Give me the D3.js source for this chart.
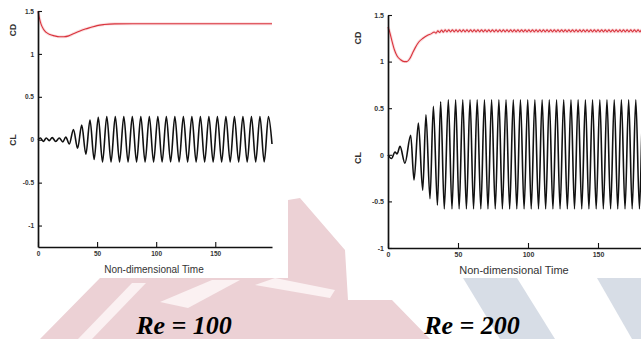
<!DOCTYPE html>
<html>
<head>
<script src="https://d3js.org/d3.v7.min.js"></script>
<style>
  body { margin: 0; background: #fff; }
  svg text { font-family: "Liberation Sans", Arial, sans-serif; }
</style>
</head>
<body>
<svg width="641" height="339"></svg>
<script>
// ---- values ----
var xTicks = [0, 50, 100, 150];
var yTicks = [1.5, 1, 0.5, 0, -0.5, -1];
var yTickLabels = ["1.5", "1", "0.5", "0", "-0.5", "-1"];
var xLabel = "Non-dimensional Time";
var titles = ["Re = 100", "Re = 200"];

// Re = 100, drag and lift (time, value)
var cd100 = [[0,1.5],[1,1.43],[2.5,1.35],[4.5,1.29],[7,1.25],[10,1.225],[14,1.21],[18,1.2],[22,1.2],[26,1.21],
  [30,1.235],[35,1.265],[40,1.29],[45,1.31],[50,1.33],[56,1.342],[65,1.35],[80,1.352],[100,1.352],[130,1.352],
  [160,1.352],[198,1.352]];

var cl100 = [[0,0],[2,0.02],[4.5,-0.02],[7,0.02],[9.5,-0.01],[12,0.025],[15,-0.02],[18,0.02],[21,-0.025],[23.5,0.03],
  [26.5,-0.05],[30,0.12],[33.5,-0.1],[37,0.17],[40.5,-0.17],[44,0.23],[47.5,-0.23],[51,0.26],[54.6,-0.26],
  [58.2,0.27],[61.8,-0.26],[65.4,0.27],[69,-0.26],[72.6,0.27],[76.2,-0.26],[79.8,0.27],[83.4,-0.26],[87,0.27],
  [90.6,-0.26],[94.2,0.27],[97.8,-0.26],[101.4,0.27],[105,-0.26],[108.6,0.27],[112.2,-0.26],[115.8,0.27],
  [119.4,-0.26],[123,0.27],[126.6,-0.26],[130.2,0.27],[133.8,-0.26],[137.4,0.27],[141,-0.26],[144.6,0.27],
  [148.2,-0.26],[151.8,0.27],[155.4,-0.26],[159,0.27],[162.6,-0.26],[166.2,0.27],[169.8,-0.26],[173.4,0.27],
  [177,-0.26],[180.6,0.27],[184.2,-0.26],[187.8,0.27],[191.4,-0.26],[195,0.27],[198,-0.05]];

// Re = 200, drag and lift (time, value)
var cd200 = [[0,1.37],[1,1.33],[2.5,1.24],[4.5,1.13],[6.5,1.06],[9,1.02],[11.5,1.0],[13.5,1.0],[15.5,1.03],
  [17.5,1.09],[19.5,1.15],[22,1.21],[25,1.25],[28,1.28],[31,1.30],
  [33,1.318],[34.3,1.305],[35.6,1.33],[36.9,1.312],[38.2,1.338],[39.5,1.316],[40.8,1.342],[42.1,1.318],
  [43.4,1.342],[44.7,1.318],[46,1.342],[47.3,1.318],[48.6,1.342],[49.9,1.318],[51.2,1.342],[52.5,1.318],
  [53.8,1.342],[55.1,1.318],[56.4,1.342],[57.7,1.318],[59,1.342],[60.3,1.318],[61.6,1.342],[62.9,1.318],
  [64.2,1.342],[65.5,1.318],[66.8,1.342],[68.1,1.318],[69.4,1.342],[70.7,1.318],[72,1.342],[73.3,1.318],
  [74.6,1.342],[75.9,1.318],[77.2,1.342],[78.5,1.318],[79.8,1.342],[81.1,1.318],[82.4,1.342],[83.7,1.318],
  [85,1.342],[86.3,1.318],[87.6,1.342],[88.9,1.318],[90.2,1.342],[91.5,1.318],[92.8,1.342],[94.1,1.318],
  [95.4,1.342],[96.7,1.318],[98,1.342],[99.3,1.318],[100.6,1.342],[101.9,1.318],[103.2,1.342],[104.5,1.318],
  [105.8,1.342],[107.1,1.318],[108.4,1.342],[109.7,1.318],[111,1.342],[112.3,1.318],[113.6,1.342],[114.9,1.318],
  [116.2,1.342],[117.5,1.318],[118.8,1.342],[120.1,1.318],[121.4,1.342],[122.7,1.318],[124,1.342],[125.3,1.318],
  [126.6,1.342],[127.9,1.318],[129.2,1.342],[130.5,1.318],[131.8,1.342],[133.1,1.318],[134.4,1.342],[135.7,1.318],
  [137,1.342],[138.3,1.318],[139.6,1.342],[140.9,1.318],[142.2,1.342],[143.5,1.318],[144.8,1.342],[146.1,1.318],
  [147.4,1.342],[148.7,1.318],[150,1.342],[151.3,1.318],[152.6,1.342],[153.9,1.318],[155.2,1.342],[156.5,1.318],
  [157.8,1.342],[159.1,1.318],[160.4,1.342],[161.7,1.318],[163,1.342],[164.3,1.318],[165.6,1.342],[166.9,1.318],
  [168.2,1.342],[169.5,1.318],[170.8,1.342],[172.1,1.318],[173.4,1.342],[174.7,1.318],[176,1.342],[177.3,1.318],
  [178.6,1.342],[179.9,1.318],[181.2,1.342],[182.5,1.318],[183.8,1.342],[185.1,1.318]];

var cl200 = [[0,0],[2.5,-0.04],[5,0.03],[6.5,0.01],[8.6,0.09],[12.1,-0.09],[16.2,0.21],[18.6,-0.27],[21.7,0.34],
  [24.8,-0.38],[27.1,0.43],[30,-0.47],[32.4,0.52],[35.3,-0.54],[37.6,0.57],[40.2,-0.58],[43.1,0.59],[45.7,-0.58],
  [48.3,0.59],[50.8,-0.58],[53.4,0.59],[56,-0.58],[58.6,0.59],[61.1,-0.58],[63.7,0.59],[66.3,-0.58],[68.9,0.59],
  [71.4,-0.58],[74,0.59],[76.6,-0.58],[79.2,0.59],[81.7,-0.58],[84.3,0.59],[86.9,-0.58],[89.5,0.59],[92,-0.58],
  [94.6,0.59],[97.2,-0.58],[99.8,0.59],[102.3,-0.58],[104.9,0.59],[107.5,-0.58],[110.1,0.59],[112.6,-0.58],
  [115.2,0.59],[117.8,-0.58],[120.4,0.59],[122.9,-0.58],[125.5,0.59],[128.1,-0.58],[130.7,0.59],[133.2,-0.58],
  [135.8,0.59],[138.4,-0.58],[141,0.59],[143.5,-0.58],[146.1,0.59],[148.7,-0.58],[151.3,0.59],[153.8,-0.58],
  [156.4,0.59],[159,-0.58],[161.6,0.59],[164.1,-0.58],[166.7,0.59],[169.3,-0.58],[171.9,0.59],[174.4,-0.58],
  [177,0.59],[179.6,-0.58],[182.2,0.59],[184.7,-0.58],[187.3,0.59]];

var svg = d3.select('svg');

// Watermark behind the figures: pink area with white stripes, two grey-blue bands
svg.append('polygon')
  .attr('points', '40,339 100,278 288,278 288,200 300,198 345,250 348,300 392,300 430,339')
  .style('fill', '#ecd1d5');
var stripes = [
  [[78,339],[132,283],[146,283],[92,339]],
  [[160,302],[212,280],[240,280],[188,308]],
  [[255,285],[275,278],[335,290],[330,298]]
];
svg.selectAll('.wm-white').data(stripes).enter().append('polygon')
  .attr('points', function(d) { return d.join(' '); })
  .style('fill', '#fbf1f2');
var blue = [
  [[463,278],[517,278],[555,339],[500,339]],
  [[597,278],[641,278],[641,339],[632,339]]
];
svg.selectAll('.wm-blue').data(blue).enter().append('polygon')
  .attr('points', function(d) { return d.join(' '); })
  .style('fill', '#d7dde6');

// White panels for the two figures
svg.append('rect').attr('x', 0).attr('y', 0).attr('width', 288).attr('height', 278).style('fill', '#fff');
svg.append('rect').attr('x', 348).attr('y', 0).attr('width', 293).attr('height', 278).style('fill', '#fff');

function drawPanel(p) {
  var xs = d3.scaleLinear().domain(p.xdomain).range([p.left, p.right]);
  var ys = d3.scaleLinear().domain(p.ydomain).range([p.bottom, p.top]);
  var g = svg.append('g');

  var line = d3.line()
    .x(function(d) { return xs(d[0]); })
    .y(function(d) { return ys(d[1]); })
    .curve(d3.curveMonotoneX);

  // CD curve with a faint halo
  g.append('path').attr('d', line(p.cd))
    .style('fill', 'none').style('stroke', '#f3b3b8').style('stroke-width', 3).style('opacity', 0.45);
  g.append('path').attr('d', line(p.cd))
    .style('fill', 'none').style('stroke', '#d9333c').style('stroke-width', 1.1);

  // CL curve
  g.append('path').attr('d', line(p.cl))
    .style('fill', 'none').style('stroke', '#111').style('stroke-width', 1.6);

  // X axis
  var xa = g.append('g')
    .attr('transform', 'translate(0,' + p.bottom + ')')
    .call(d3.axisBottom(xs).tickValues(xTicks).tickSizeInner(-5).tickSizeOuter(0)
      .tickPadding(4).tickFormat(d3.format('d')));

  // Y axis
  var ya = g.append('g')
    .attr('transform', 'translate(' + p.left + ',0)')
    .call(d3.axisLeft(ys).tickValues(yTicks).tickSizeInner(-4).tickSizeOuter(0)
      .tickPadding(4).tickFormat(function(d, i) { return yTickLabels[i]; }));

  [xa, ya].forEach(function(a) {
    a.select('.domain').style('stroke', '#111').style('stroke-width', 1.7);
    a.selectAll('.tick line').style('stroke', '#111').style('stroke-width', 1.1);
    a.selectAll('.tick text').style('font-size', p.tick + 'px').style('font-weight', 'bold')
      .style('fill', '#333').style('font-family', '"Liberation Sans", Arial, sans-serif');
  });

  // Axis labels
  g.append('text')
    .attr('x', p.xlabelX).attr('y', p.bottom + 26)
    .style('text-anchor', 'middle').style('font-size', p.lab + 'px').style('fill', '#333')
    .text(xLabel);
  g.append('text')
    .attr('transform', 'translate(' + p.ylabX + ',' + p.cdY + ') rotate(-90)')
    .style('text-anchor', 'middle').style('font-size', p.ylab + 'px').style('font-weight', 'bold').style('fill', '#333')
    .text('CD');
  g.append('text')
    .attr('transform', 'translate(' + p.ylabX + ',' + p.clY + ') rotate(-90)')
    .style('text-anchor', 'middle').style('font-size', p.ylab + 'px').style('font-weight', 'bold').style('fill', '#333')
    .text('CL');

  // Reynolds number caption
  svg.append('text')
    .attr('x', p.titleX).attr('y', 334)
    .style('text-anchor', 'middle')
    .style('font-family', '"Liberation Serif", "Times New Roman", serif')
    .style('font-weight', 'bold').style('font-style', 'italic').style('font-size', '26px')
    .style('fill', '#000')
    .text(p.title);
}

drawPanel({ xdomain: [0, 198], ydomain: [-1.25, 1.5], left: 38, right: 272, top: 11, bottom: 247,
  cd: cd100, cl: cl100, tick: 6.5, lab: 10, ylab: 8.5, xlabelX: 154, ylabX: 16, cdY: 30, clY: 140,
  titleX: 184, title: titles[0] });

drawPanel({ xdomain: [0, 200], ydomain: [-1, 1.5], left: 388, right: 668, top: 15, bottom: 248,
  cd: cd200, cl: cl200, tick: 7, lab: 11, ylab: 9, xlabelX: 514, ylabX: 361, cdY: 38, clY: 158,
  titleX: 472, title: titles[1] });
</script>
</body>
</html>
